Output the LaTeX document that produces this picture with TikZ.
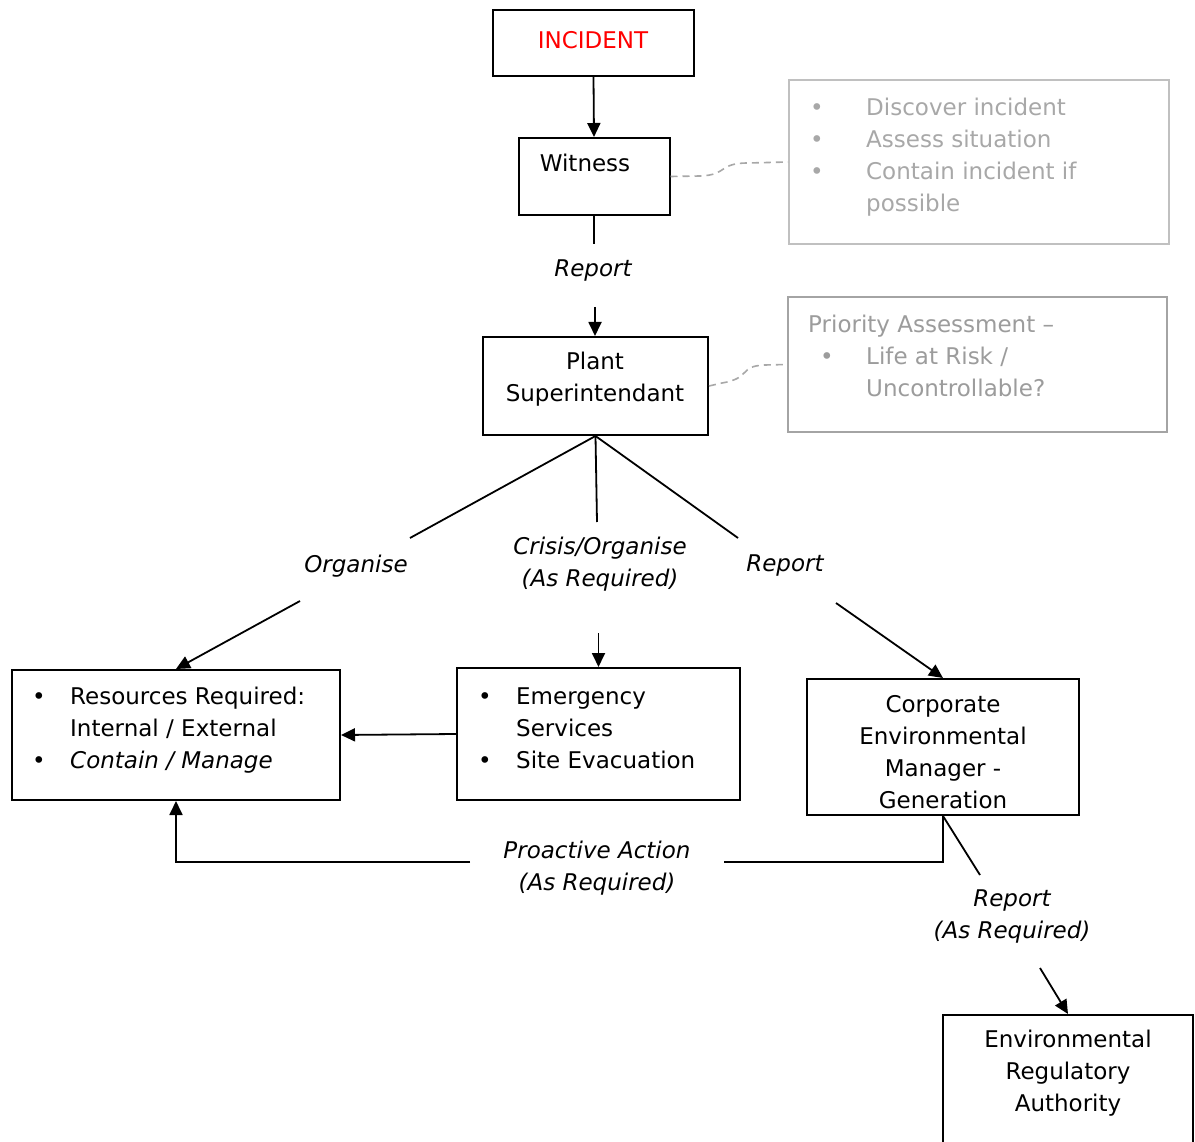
\documentclass[tikz,border=0pt]{standalone}
\usepackage{fontspec}
\setmainfont{DejaVu Sans}
\usetikzlibrary{arrows.meta}
\definecolor{lgray}{HTML}{A8A8A8}
\definecolor{bgray1}{HTML}{C0C0C0}
\definecolor{bgray2}{HTML}{A4A4A4}
\definecolor{tgray2}{HTML}{9C9C9C}
\definecolor{incred}{HTML}{FF0000}
\tikzset{
  box/.style={draw=black, line width=2pt, rectangle, inner sep=0pt},
  gbox/.style={draw=bgray1, line width=2pt, rectangle, inner sep=0pt},
  txt/.style={inner sep=0pt, font=\fontsize{23pt}{32pt}\selectfont, align=center},
  ltxt/.style={inner sep=0pt, font=\fontsize{23pt}{32pt}\selectfont, align=left, anchor=west},
  lbl/.style={inner sep=0pt, font=\fontsize{23pt}{32pt}\selectfont\itshape, align=center},
  conn/.style={line width=1.8pt, draw=black},
  arr/.style={conn, -{Triangle[length=14pt,width=13pt]}},
  gdash/.style={draw=lgray, line width=1.6pt, dash pattern=on 7pt off 5pt}
}
\begin{document}
\begin{tikzpicture}[x=1pt,y=-1pt]
\useasboundingbox (0,0) rectangle (1195,1142);
\clip (0,0) rectangle (1195,1142);
\fill[white] (0,0) rectangle (1195,1142);

% boxes
\node[box, minimum width=201pt, minimum height=66pt] (incident) at (593.5,43) {};
\node[txt, text=incred] (incidentT) at (593,40) {INCIDENT};

\node[box, minimum width=151pt, minimum height=77pt] (witness) at (594,176.5) {};
\node[txt] (witnessT) at (585,163) {Witness};

\node[box, minimum width=225pt, minimum height=98pt] (plant) at (595.5,386) {};
\node[txt] (plantT) at (595,379) {Plant\\Superintendant};

\node[gbox, minimum width=380pt, minimum height=164pt] (g1) at (979,162) {};
\node[ltxt, text=lgray] (g1T) at (810,157) {\makebox[56pt][l]{\textbullet}Discover incident\\
\makebox[56pt][l]{\textbullet}Assess situation\\
\makebox[56pt][l]{\textbullet}Contain incident if\\
\hspace*{56pt}possible};

\node[gbox, draw=bgray2, minimum width=379pt, minimum height=135pt] (g2) at (977.5,364.5) {};
\node[ltxt, text=tgray2] (g2T) at (808,356) {Priority Assessment –\\
\hspace*{12pt}\makebox[46pt][l]{\textbullet}Life at Risk /\\
\hspace*{58pt}Uncontrollable?};

\node[box, minimum width=328pt, minimum height=130pt] (res) at (176,735) {};
\node[ltxt] (resT) at (32,730) {\makebox[38pt][l]{\textbullet}Resources Required:\\
\hspace*{38pt}Internal / External\\
\makebox[38pt][l]{\textbullet}\textit{Contain / Manage}};

\node[box, minimum width=283pt, minimum height=132pt] (emg) at (598.5,734) {};
\node[ltxt] (emgT) at (478,728) {\makebox[38pt][l]{\textbullet}Emergency\\
\hspace*{38pt}Services\\
\makebox[38pt][l]{\textbullet}Site Evacuation};

\node[box, minimum width=272pt, minimum height=136pt] (corp) at (943,747) {};
\node[txt] (corpT) at (943,752) {Corporate\\Environmental\\Manager -\\Generation};

\node[box, minimum width=250pt, minimum height=160pt] (era) at (1068,1095) {};
\node[txt] (eraT) at (1068,1073) {Environmental\\Regulatory\\Authority};

% labels
\node[lbl] (rep1) at (593,271) {Report};
\node[lbl] (org) at (356,566) {Organise};
\node[lbl] (crisis) at (600,564) {Crisis/Organise\\(As Required)};
\node[lbl] (rep2) at (785,566) {Report};
\node[lbl] (pro) at (597,868) {Proactive Action\\(As Required)};
\node[lbl] (rep3) at (1012,916) {Report\\(As Required)};

% coordinates for label gaps
\coordinate (r1a) at (594,244);
\coordinate (r1b) at (595,307);
\coordinate (o1) at (410,538);
\coordinate (o2) at (300,601);
\coordinate (c1) at (597,522);
\coordinate (c2) at (598.5,633);
\coordinate (p1) at (738,538);
\coordinate (p2) at (836,603);
\coordinate (pa1) at (724,862);
\coordinate (pa2) at (470,862);
\coordinate (q1) at (980,875);
\coordinate (q2) at (1040,968);

% connectors
\draw[arr] (incident.south) -- (witness.north);
\draw[conn] (witness.south) -- (r1a);
\draw[arr] (r1b) -- (r1b |- plant.north);

\draw[conn] (plant.south) -- (o1);
\draw[arr] (o2) -- (res.north);
\draw[conn] (plant.south) -- (c1);
\draw[arr] (c2) -- (emg.north);
\draw[conn] (plant.south) -- (p1);
\draw[arr] (p2) -- (corp.north);

\draw[arr] (emg.west) -- (res.east);

\draw[conn] (corp.south) |- (pa1);
\draw[arr] (pa2) -| (res.south);

\draw[conn] (corp.south) -- (q1);
\draw[arr] (q2) -- (era.north);

% dashed callout connectors
\draw[gdash] (witness.east) -- (700,176) .. controls (728,175) and (718,163) .. (748,163) -- (g1.west);
\draw[gdash] (plant.east) -- (722,383) .. controls (752,378) and (738,366) .. (765,365) -- (g2.west);
\end{tikzpicture}
\end{document}
